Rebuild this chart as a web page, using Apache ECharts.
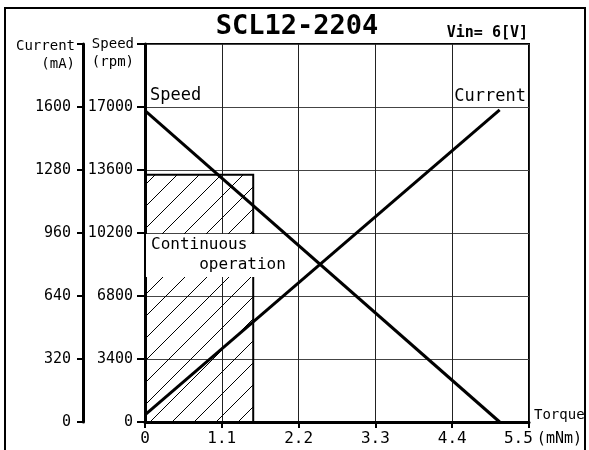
<!DOCTYPE html>
<html>
<head>
<meta charset="utf-8">
<script src="https://cdn.jsdelivr.net/npm/echarts@6/dist/echarts.min.js"></script>
<style>
  html, body { margin: 0; padding: 0; background: #fff; }
  #main { width: 589px; height: 450px; }
</style>
</head>
<body>
<div id="main"></div>
<script>
(function () {
    "use strict";

    // torque (mNm) at the two ends of the characteristic lines
    const torque = [0, 5.08];
    const speedVals = [16800, 0];      // rpm
    const currentVals = [36, 1585];    // mA
    // continuous operation region: torque limit, speed limit
    const contTorque = 1.55;
    const contSpeed = 13350;

    const torqueTicks = [0, 1.1, 2.2, 3.3, 4.4, 5.5];
    const speedMax = 20400, speedStep = 3400;
    const currentMax = 1920, currentStep = 320;

    const mono = '"DejaVu Sans Mono", "Liberation Mono", monospace';

    // hatch pattern for the continuous area
    function hatch() {
        let s = 22;
        let c = document.createElement('canvas');
        c.width = s; c.height = s;
        let ctx = c.getContext('2d');
        ctx.strokeStyle = '#000';
        ctx.lineWidth = 1;
        [-s, 0, s].forEach(k => {
            ctx.beginPath();
            ctx.moveTo(k, s);
            ctx.lineTo(k + s, 0);
            ctx.stroke();
        });
        return c;
    }

    let myChart = echarts.init(document.getElementById('main'));

    let option = {
        animation: false,
        backgroundColor: '#fff',
        grid: {
            left: 145, top: 44, right: 60, bottom: 28,
            show: true,
            borderColor: '#000',
            borderWidth: 2
        },
        xAxis: {
            type: 'value',
            min: 0, max: 5.5, interval: 1.1,
            name: 'Torque',
            nameLocation: 'end',
            nameGap: 5,
            nameTextStyle: { fontFamily: mono, fontSize: 14, color: '#000', align: 'left', verticalAlign: 'bottom' },
            axisLine: { lineStyle: { color: '#000', width: 3 } },
            axisTick: { length: 6, lineStyle: { color: '#000', width: 2 } },
            splitLine: { show: true, lineStyle: { color: '#222', width: 1 } },
            axisLabel: {
                margin: 9,
                fontFamily: mono, fontSize: 16, color: '#000',
                formatter: function (v) {
                    let t = torqueTicks.find(x => Math.abs(x - v) < 1e-6);
                    if (t === undefined) return '';
                    if (t === 0) return '0';
                    if (t === 5.5) return '{u|' + t.toFixed(1) + '}{m|(mNm)}';
                    return t.toFixed(1);
                },
                rich: {
                    u: { fontFamily: mono, fontSize: 16, color: '#000', padding: [0, 0, 0, 28] },
                    m: { fontFamily: mono, fontSize: 15, color: '#000', padding: [0, 0, 0, 4] }
                }
            }
        },
        yAxis: [
            {
                type: 'value',
                min: 0, max: speedMax, interval: speedStep,
                position: 'left',
                name: 'Speed\n(rpm)',
                nameLocation: 'end',
                nameGap: 9,
                nameTextStyle: { fontFamily: mono, fontSize: 14, lineHeight: 18, color: '#000', align: 'right', verticalAlign: 'top', padding: [0, 11, 0, 0] },
                axisLine: { show: true, lineStyle: { color: '#000', width: 3 } },
                axisTick: { show: true, length: 8, lineStyle: { color: '#000', width: 2 } },
                splitLine: { show: true, lineStyle: { color: '#444', width: 1 } },
                axisLabel: {
                    margin: 12,
                    fontFamily: mono, fontSize: 15, color: '#000',
                    formatter: v => v >= speedMax ? '' : String(v)
                }
            },
            {
                type: 'value',
                min: 0, max: currentMax, interval: currentStep,
                position: 'left',
                offset: 62,
                name: 'Current\n(mA)',
                nameLocation: 'end',
                nameGap: 7,
                nameTextStyle: { fontFamily: mono, fontSize: 14, lineHeight: 18, color: '#000', align: 'right', verticalAlign: 'top', padding: [0, 8, 0, 0] },
                axisLine: { show: true, lineStyle: { color: '#000', width: 3 } },
                axisTick: { show: true, length: 6, lineStyle: { color: '#000', width: 2 } },
                splitLine: { show: false },
                axisLabel: {
                    margin: 12,
                    fontFamily: mono, fontSize: 15, color: '#000',
                    formatter: v => v >= currentMax ? '' : String(v)
                }
            }
        ],
        series: [
            {
                type: 'custom',
                yAxisIndex: 0,
                z: 1,
                data: [[0, contTorque, contSpeed]],
                renderItem: function (params, api) {
                    let p0 = api.coord([api.value(0), api.value(2)]);
                    let p1 = api.coord([api.value(1), 0]);
                    return {
                        type: 'rect',
                        shape: { x: p0[0], y: p0[1], width: p1[0] - p0[0], height: p1[1] - p0[1] },
                        style: {
                            fill: { image: hatch(), repeat: 'repeat' },
                            stroke: '#000',
                            lineWidth: 2
                        }
                    };
                }
            },
            {
                name: 'Speed',
                type: 'line',
                yAxisIndex: 0,
                z: 5,
                symbol: 'none',
                data: torque.map((t, i) => [t, speedVals[i]]),
                lineStyle: { color: '#000', width: 3 }
            },
            {
                name: 'Current',
                type: 'line',
                yAxisIndex: 1,
                z: 5,
                symbol: 'none',
                data: torque.map((t, i) => [t, currentVals[i]]),
                lineStyle: { color: '#000', width: 3 }
            }
        ],
        graphic: [
            {
                // outer frame, its bottom edge falls below the picture
                type: 'rect',
                z: 100,
                shape: { x: 5, y: 8, width: 580, height: 450 },
                style: { fill: 'none', stroke: '#000', lineWidth: 2 }
            },
            {
                type: 'text',
                z: 100,
                x: 297, y: 27,
                style: { text: 'SCL12-2204', fontFamily: mono, fontSize: 27, fontWeight: 'bold', fill: '#000', align: 'center', verticalAlign: 'middle' }
            },
            {
                type: 'text',
                z: 100,
                x: 528, y: 33,
                style: { text: 'Vin= 6[V]', fontFamily: mono, fontSize: 15, fontWeight: 'bold', fill: '#000', align: 'right', verticalAlign: 'middle' }
            },
            {
                type: 'text',
                z: 100,
                x: 150, y: 96,
                style: { text: 'Speed', fontFamily: mono, fontSize: 17, fill: '#000', align: 'left', verticalAlign: 'middle' }
            },
            {
                type: 'text',
                z: 100,
                x: 526, y: 97,
                style: { text: 'Current', fontFamily: mono, fontSize: 17, fill: '#000', align: 'right', verticalAlign: 'middle' }
            },
            {
                // white box behind the region label, under the characteristic lines
                type: 'rect',
                z: 3,
                shape: { x: 146, y: 234, width: 146, height: 43 },
                style: { fill: '#fff' }
            },
            {
                type: 'text',
                z: 6,
                x: 151, y: 255,
                style: { text: 'Continuous\n     operation', fontFamily: mono, fontSize: 16, lineHeight: 20, fill: '#000', align: 'left', verticalAlign: 'middle' }
            }
        ]
    };

    myChart.setOption(option);
})();
</script>
</body>
</html>
